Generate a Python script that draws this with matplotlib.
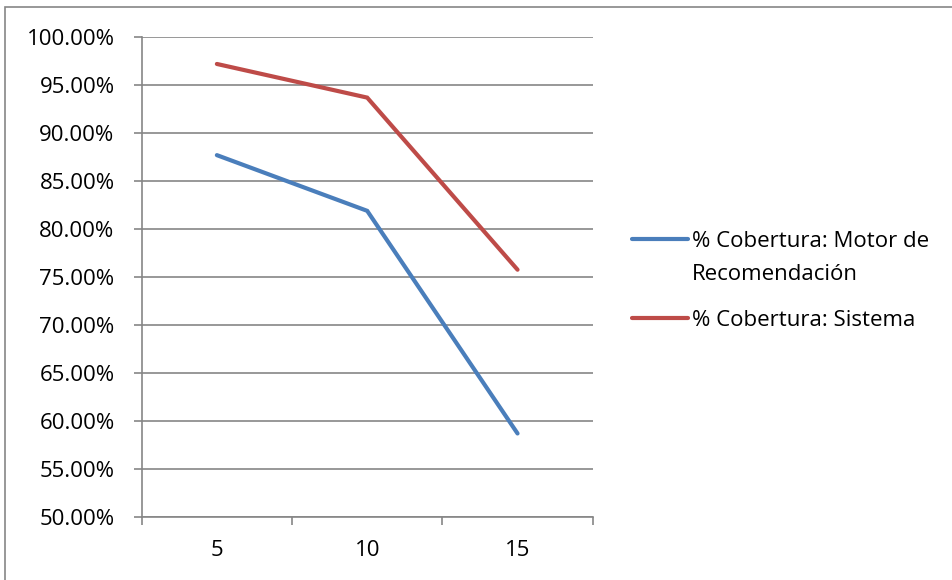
import matplotlib
matplotlib.use("Agg")
from matplotlib import pyplot as plt
from matplotlib.lines import Line2D
from matplotlib.patches import Rectangle
from matplotlib.ticker import FuncFormatter, FixedLocator

plt.rcParams['font.family'] = ['Open Sans', 'DejaVu Sans']

# datos
categorias = ['5', '10', '15']
motor = [0.8771, 0.8190, 0.5868]
sistema = [0.9722, 0.9371, 0.7576]
nombres = [['% Cobertura: Motor de', 'Recomendación'], ['% Cobertura: Sistema']]
colores = ['#4A7EBB', '#BE4B48']

W, H = 953, 580
fig = plt.figure(figsize=(W / 100, H / 100), dpi=100)
ax = fig.add_axes([141.7 / W, 1 - 516.7 / H, 451 / W, 479.4 / H])


def fx(px):
    return px / W


def fy(py):
    return 1 - py / H


x = range(len(categorias))
for serie, color in zip([motor, sistema], colores):
    ax.plot(x, serie, color=color, lw=3, solid_capstyle='round',
            solid_joinstyle='miter', zorder=3)

ax.set_xlim(-0.5, len(categorias) - 0.5)
ax.set_ylim(0.5, 1.0)
ax.set_yticks([0.5 + 0.05 * i for i in range(11)])
ax.yaxis.set_major_formatter(FuncFormatter(lambda v, p: '{:.2f}%'.format(v * 100)))
ax.set_xticks(list(x))
ax.set_xticklabels(categorias)
ax.xaxis.set_minor_locator(FixedLocator([i - 0.5 for i in range(len(categorias) + 1)]))

ax.grid(axis='y', color='#868686', lw=1.2)
ax.set_axisbelow(True)
for s in ['top', 'right']:
    ax.spines[s].set_visible(False)
for s in ['left', 'bottom']:
    ax.spines[s].set_color('#868686')
    ax.spines[s].set_linewidth(1.2)

ax.tick_params(axis='y', direction='out', length=6, width=1.2, color='#868686',
               labelsize=16, pad=13.5, labelcolor='black')
ax.tick_params(axis='x', which='major', length=0, labelsize=16, pad=17, labelcolor='black')
ax.tick_params(axis='x', which='minor', direction='out', length=6, width=1.2, color='#868686')

# leyenda a la derecha, una línea de texto por renglón
claves_y = [239, 318]
for lineas, color, ky in zip(nombres, colores, claves_y):
    fig.add_artist(Line2D([fx(632), fx(688)], [fy(ky), fy(ky)], color=color, lw=3,
                          solid_capstyle='round', transform=fig.transFigure))
    for i, texto in enumerate(lineas):
        fig.text(fx(692), fy(ky + 8 + 33 * i), texto, fontsize=16,
                 va='baseline', ha='left')

# marco exterior
fig.patches.append(Rectangle((fx(5), fy(H + 20)), (W + 20) / W, (H + 13) / H,
                             transform=fig.transFigure, fill=False,
                             edgecolor='#868686', lw=1.2))

plt.savefig('out.png', dpi=100)
